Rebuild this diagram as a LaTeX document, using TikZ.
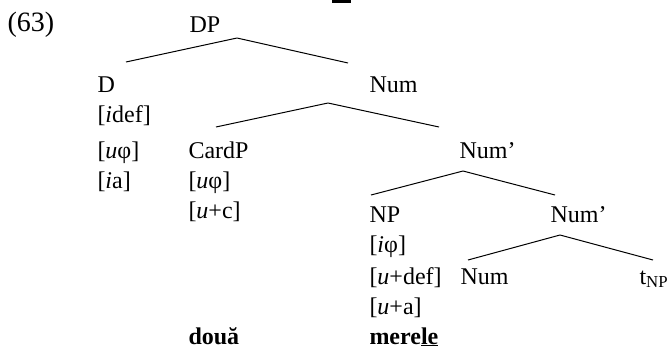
\documentclass[tikz,border=0pt]{standalone}
\usepackage{fontspec}
\setmainfont{Liberation Serif}
\begin{document}
\begin{tikzpicture}[x=1pt,y=-1pt,line join=bevel,
  lbl/.style={anchor=base west,inner sep=0pt,font=\fontsize{24}{29}\selectfont}]
  \useasboundingbox (0,0) rectangle (668,351);
  \pgfsetlinewidth{1pt}
%%
  % Node: labels of the tree
  \node[lbl,font=\fontsize{28}{34}\selectfont] (ex) at (7,31) {(63)};
  \node[lbl] (dp) at (189,32) {DP};
  \node[lbl] (d) at (97,92) {D};
  \node[lbl] (num) at (369,92) {Num};
  \node[lbl] (didef) at (97,122) {[\textit{i}def]};
  \node[lbl] (duphi) at (97,158) {[\textit{u}φ]};
  \node[lbl] (cardp) at (188,158) {CardP};
  \node[lbl] (numbar) at (459,158) {Num’};
  \node[lbl] (dia) at (97,188) {[\textit{i}a]};
  \node[lbl] (cuphi) at (188,188) {[\textit{u}φ]};
  \node[lbl] (cuc) at (188,218) {[\textit{u}+c]};
  \node[lbl] (np) at (369,222) {NP};
  \node[lbl] (numbarb) at (550,222) {Num’};
  \node[lbl] (niphi) at (369,252) {[\textit{i}φ]};
  \node[lbl] (nudef) at (369,284) {[\textit{u}+def]};
  \node[lbl] (numb) at (460,284) {Num};
  \node[lbl] (trace) at (639,284) {t\textsubscript{NP}};
  \node[lbl] (nua) at (369,314) {[\textit{u}+a]};
  \node[lbl] (doua) at (188,344) {\textbf{două}};
  \node[lbl] (merele) at (369,344) {\textbf{mere\underline{le}}};
  % Node: branch points
  \coordinate (dp-a) at (237,38);
  \coordinate (dp-l) at (126,62);
  \coordinate (dp-r) at (348,63);
  \coordinate (num-a) at (328,103);
  \coordinate (num-l) at (216,127);
  \coordinate (num-r) at (439,127);
  \coordinate (numbar-a) at (463,171);
  \coordinate (numbar-l) at (371,195);
  \coordinate (numbar-r) at (555,195);
  \coordinate (numbarb-a) at (560,235);
  \coordinate (numbarb-l) at (468,260);
  \coordinate (numbarb-r) at (653,260);
  % Edge: DP -> D, Num
  \draw (dp-l) -- (dp-a) -- (dp-r);
  % Edge: Num -> CardP, Num'
  \draw (num-l) -- (num-a) -- (num-r);
  % Edge: Num' -> NP, Num'
  \draw (numbar-l) -- (numbar-a) -- (numbar-r);
  % Edge: Num' -> Num, t
  \draw (numbarb-l) -- (numbarb-a) -- (numbarb-r);
  % cut off rule at the top
  \fill (332,0) rectangle (351,2.5);
%
\end{tikzpicture}
\end{document}
